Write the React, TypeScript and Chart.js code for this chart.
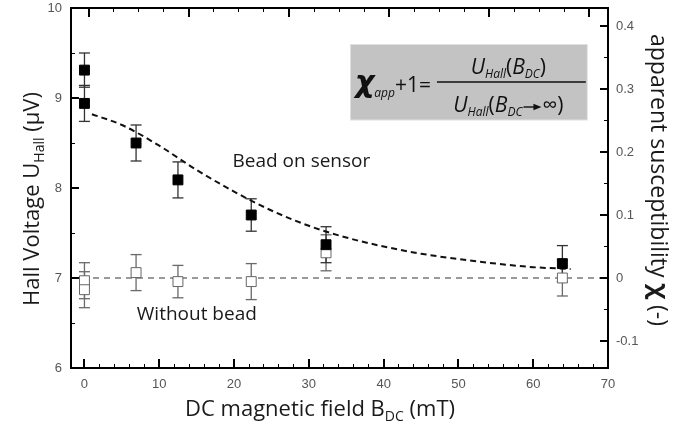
import { useEffect, useRef } from 'react';
import { Chart, registerables } from 'chart.js';
Chart.register(...registerables);

// ---- data ----
const fieldWithBead = [0, 0, 6.9, 12.5, 22.3, 32.3, 63.9];
const hallWithBead = [9.31, 8.94, 8.5, 8.09, 7.7, 7.37, 7.16];
const errWithBead = [0.19, 0.2, 0.2, 0.2, 0.18, 0.2, 0.2];

const fieldWithout = [0, 0, 6.9, 12.5, 22.3, 32.3, 63.9];
const hallWithout = [6.97, 6.87, 7.06, 6.96, 6.96, 7.28, 7.0];
const errWithout = [0.2, 0.2, 0.2, 0.18, 0.2, 0.2, 0.2];

const fitField = [1, 5, 10, 15, 20, 25, 30, 35, 40, 45, 50, 55, 60, 65];
const fitHall = [8.82, 8.7, 8.47, 8.2, 7.96, 7.75, 7.58, 7.45, 7.35, 7.27, 7.21, 7.16, 7.12, 7.1];

const baseField = [-1.8, 70];
const baseHall = [7, 7];

const xTickLabels = [0, 10, 20, 30, 40, 50, 60, 70];
const yTickLabels = [6, 7, 8, 9, 10];
const chiTickLabels = [-0.1, 0, 0.1, 0.2, 0.3, 0.4];
const topMajorTicks = [0.6, 13.97, 27.35, 40.75, 54.15, 67.5];

const X_MIN = -1.8;
const X_MAX = 70;
const Y_MIN = 6;
const Y_MAX = 10;
const U_INF = 7;

const beadLabel = { x: 19.8, y: 8.31, text: 'Bead on sensor' };
const withoutLabel = { x: 7.0, y: 6.61, text: 'Without bead' };
const formulaBox = { x1: 35.5, x2: 67.3, y1: 9.6, y2: 8.75 };

const TITLE_FONT = '"Open Sans", sans-serif';
const TICK_FONT = '"Liberation Sans", Arial, sans-serif';
const AXIS_COLOR = '#000000';

type Part = { t?: string; font?: string; dy?: number; arrow?: number };

function partsWidth(ctx: CanvasRenderingContext2D, parts: Part[]) {
  let w = 0;
  for (const p of parts) {
    if (p.arrow) { w += p.arrow; continue; }
    ctx.font = p.font!;
    w += ctx.measureText(p.t!).width;
  }
  return w;
}

function drawParts(ctx: CanvasRenderingContext2D, parts: Part[], x: number, y: number, align: 'left' | 'center') {
  let cx = align === 'center' ? x - partsWidth(ctx, parts) / 2 : x;
  ctx.textAlign = 'left';
  ctx.textBaseline = 'alphabetic';
  for (const p of parts) {
    if (p.arrow) {
      const ay = y + (p.dy || 0);
      ctx.fillRect(cx + 1, ay - 0.7, p.arrow - 8, 1.4);
      ctx.beginPath();
      ctx.moveTo(cx + p.arrow - 1, ay);
      ctx.lineTo(cx + p.arrow - 9, ay - 3.2);
      ctx.lineTo(cx + p.arrow - 9, ay + 3.2);
      ctx.closePath();
      ctx.fill();
      cx += p.arrow;
      continue;
    }
    ctx.font = p.font!;
    ctx.fillText(p.t!, cx, y + (p.dy || 0));
    cx += ctx.measureText(p.t!).width;
  }
}

const decorPlugin = {
  id: 'decor',
  beforeDatasetsDraw(chart: any) {
    const { ctx, scales } = chart;
    const x = scales.x, y = scales.y;
    const bx1 = x.getPixelForValue(formulaBox.x1), bx2 = x.getPixelForValue(formulaBox.x2);
    const by1 = y.getPixelForValue(formulaBox.y1), by2 = y.getPixelForValue(formulaBox.y2);
    ctx.save();
    ctx.fillStyle = '#e0e0e0';
    ctx.fillRect(bx1, by1, bx2 - bx1, by2 - by1);
    ctx.fillStyle = '#c3c3c3';
    ctx.fillRect(bx1 + 1, by1 + 1, bx2 - bx1 - 2, by2 - by1 - 2);
    ctx.restore();

    const groups = [
      { xs: fieldWithout, ys: hallWithout, es: errWithout, color: '#6a6a6a' },
      { xs: fieldWithBead, ys: hallWithBead, es: errWithBead, color: '#333333' },
    ];
    ctx.save();
    for (const g of groups) {
      ctx.fillStyle = g.color;
      g.xs.forEach((xv, i) => {
        const px = x.getPixelForValue(xv);
        const t = y.getPixelForValue(g.ys[i] + g.es[i]);
        const b = y.getPixelForValue(g.ys[i] - g.es[i]);
        ctx.fillRect(px - 0.65, t, 1.3, b - t);
        ctx.fillRect(px - 5.5, t - 0.65, 11, 1.3);
        ctx.fillRect(px - 5.5, b - 0.65, 11, 1.3);
      });
    }
    ctx.restore();
  },
  afterDraw(chart: any) {
    const { ctx, scales } = chart;
    const x = scales.x, y = scales.y, yc = scales.y1;
    const L = Math.round(x.getPixelForValue(X_MIN)), R = Math.round(x.getPixelForValue(X_MAX));
    const T = Math.round(y.getPixelForValue(Y_MAX)), B = Math.round(y.getPixelForValue(Y_MIN));
    ctx.save();
    ctx.globalCompositeOperation = 'source-over';
    ctx.globalAlpha = 1;
    ctx.fillStyle = AXIS_COLOR;
    // frame
    ctx.fillRect(L - 1, T - 1, R - L + 2, 2);
    ctx.fillRect(L - 1, B - 1, R - L + 2, 2);
    ctx.fillRect(L - 1, T - 1, 2, B - T + 2);
    ctx.fillRect(R - 1, T - 1, 2, B - T + 2);

    const vtick = (px: number, y0: number, len: number, w: number) => ctx.fillRect(Math.round(px - w / 2), Math.min(y0, y0 + len), w, Math.abs(len));
    const htick = (py: number, x0: number, len: number, w: number) => ctx.fillRect(Math.min(x0, x0 + len), Math.round(py - w / 2), Math.abs(len), w);

    for (let v = 0; v <= 70; v += 2) {
      const major = v % 10 === 0;
      vtick(x.getPixelForValue(v), B, major ? -9 : -4, major ? 2 : 1);
    }
    const step = topMajorTicks[1] - topMajorTicks[0];
    for (let i = 0; i < topMajorTicks.length; i++) {
      const base = topMajorTicks[i];
      vtick(x.getPixelForValue(base), T, 9, 2);
      for (let k = 1; k < 4; k++) {
        const v = base + (step * k) / 4;
        if (v < X_MAX - 0.5) vtick(x.getPixelForValue(v), T, 4, 1);
      }
    }
    for (let v = Y_MIN; v <= Y_MAX + 1e-9; v += 0.5) {
      const major = Math.abs(v - Math.round(v)) < 1e-6;
      htick(y.getPixelForValue(v), L, major ? 8 : 4, major ? 2 : 1);
    }
    for (let k = -2; k <= 8; k++) {
      const py = yc.getPixelForValue(k * 0.05);
      if (py < T + 1 || py > B - 1) continue;
      const major = k % 2 === 0;
      htick(py, R, major ? -8 : -4, major ? 2 : 1);
    }

    // axis titles
    ctx.fillStyle = '#1a1a1a';
    const big = `22px ${TITLE_FONT}`;
    const sub = `14px ${TITLE_FONT}`;
    drawParts(ctx, [
      { t: 'DC magnetic field B', font: big },
      { t: 'DC', font: sub, dy: 5 },
      { t: ' (mT)', font: big },
    ], 320, 416, 'center');

    ctx.save();
    ctx.translate(32, 199);
    ctx.rotate(-Math.PI / 2);
    drawParts(ctx, [
      { t: 'Hall Voltage U', font: `22px ${TITLE_FONT}` },
      { t: 'Hall', font: sub, dy: 5 },
      { t: ' (\u03bcV)', font: `22px ${TITLE_FONT}` },
    ], 0, 7, 'center');
    ctx.restore();

    ctx.save();
    ctx.translate(651, 180);
    ctx.rotate(Math.PI / 2);
    drawParts(ctx, [
      { t: 'apparent susceptibility ', font: `23px ${TITLE_FONT}` },
      { t: '\u03c7', font: `bold 25px "Noto Sans", sans-serif` },
      { t: ' (-)', font: `23px ${TITLE_FONT}` },
    ], 0, 0, 'center');
    ctx.restore();

    const lab = `19px ${TITLE_FONT}`;
    drawParts(ctx, [{ t: beadLabel.text, font: lab }], x.getPixelForValue(beadLabel.x), y.getPixelForValue(beadLabel.y) + 7, 'left');
    drawParts(ctx, [{ t: withoutLabel.text, font: lab }], x.getPixelForValue(withoutLabel.x), y.getPixelForValue(withoutLabel.y) + 7, 'left');

    const bx1 = x.getPixelForValue(formulaBox.x1), bx2 = x.getPixelForValue(formulaBox.x2);
    const by1 = y.getPixelForValue(formulaBox.y1);
    const it = `italic 21px ${TITLE_FONT}`;
    const itSub = `italic 12px ${TITLE_FONT}`;
    const reg = `21px ${TITLE_FONT}`;
    ctx.fillStyle = '#111';
    drawParts(ctx, [
      { t: '\u03c7', font: `italic bold 30px "DejaVu Sans", sans-serif` },
      { t: 'app', font: itSub, dy: 5 },
      { t: '+1=', font: reg },
    ], bx1 + 5, by1 + 48, 'left');
    const fx1 = bx1 + 87, fx2 = bx2 - 2;
    const fy = by1 + 38;
    ctx.fillRect(fx1, fy - 0.75, fx2 - fx1, 1.5);
    const fc = (fx1 + fx2) / 2 - 3;
    drawParts(ctx, [
      { t: 'U', font: it },
      { t: 'Hall', font: itSub, dy: 4 },
      { t: '(', font: reg },
      { t: 'B', font: it },
      { t: 'DC', font: itSub, dy: 4 },
      { t: ')', font: reg },
    ], fc, by1 + 30, 'center');
    drawParts(ctx, [
      { t: 'U', font: it },
      { t: 'Hall', font: itSub, dy: 4 },
      { t: '(', font: reg },
      { t: 'B', font: it },
      { t: 'DC', font: itSub, dy: 4 },
      { arrow: 20, dy: -5 },
      { t: '\u221e)', font: reg },
    ], fc, by1 + 68, 'center');
    ctx.restore();
  },
};

export default function App() {
  const ref = useRef<HTMLCanvasElement | null>(null);
  useEffect(() => {
    if (!ref.current) return;
    const toPts = (xs: number[], ys: number[]) => xs.map((v, i) => ({ x: v, y: ys[i] }));
    const noPad = (s: any) => { s.paddingTop = 0; s.paddingBottom = 0; s.paddingLeft = 0; s.paddingRight = 0; };
    const chart = new Chart(ref.current, {
      type: 'scatter',
      data: {
        datasets: [
          {
            label: 'Bead on sensor',
            data: toPts(fieldWithBead, hallWithBead),
            pointStyle: 'rect',
            pointRadius: 7,
            backgroundColor: '#000',
            borderColor: '#000',
            borderWidth: 1,
          },
          {
            label: 'Without bead',
            data: toPts(fieldWithout, hallWithout),
            pointStyle: 'rect',
            pointRadius: 7,
            backgroundColor: '#fff',
            borderColor: '#666',
            borderWidth: 1,
          },
          {
            label: 'fit',
            type: 'line',
            data: toPts(fitField, fitHall),
            borderColor: '#111',
            borderWidth: 2,
            borderDash: [6, 4],
            pointRadius: 0,
            tension: 0.4,
            cubicInterpolationMode: 'monotone',
            fill: false,
          } as any,
          {
            label: 'baseline',
            type: 'line',
            data: toPts(baseField, baseHall),
            borderColor: '#7a7a7a',
            borderWidth: 1.6,
            borderDash: [6, 5],
            pointRadius: 0,
            fill: false,
          } as any,
        ],
      },
      options: {
        responsive: false,
        animation: false,
        layout: { padding: { top: 7, left: 0, right: 0, bottom: 0 } },
        plugins: { legend: { display: false }, tooltip: { enabled: false } },
        scales: {
          x: {
            type: 'linear',
            min: X_MIN,
            max: X_MAX,
            grid: { display: false, drawTicks: false },
            border: { display: false },
            afterBuildTicks: (s: any) => { s.ticks = xTickLabels.map((v) => ({ value: v })); },
            afterFit: (s: any) => { s.height = 55; noPad(s); },
            ticks: { padding: 9, color: '#555', font: { family: TICK_FONT, size: 13 }, maxRotation: 0 },
          },
          y: {
            type: 'linear',
            position: 'left',
            min: Y_MIN,
            max: Y_MAX,
            grid: { display: false, drawTicks: false },
            border: { display: false },
            afterBuildTicks: (s: any) => { s.ticks = yTickLabels.map((v) => ({ value: v })); },
            afterFit: (s: any) => { s.width = 71; noPad(s); },
            ticks: { padding: 9, color: '#555', font: { family: TICK_FONT, size: 13 } },
          },
          y1: {
            type: 'linear',
            position: 'right',
            min: Y_MIN / U_INF - 1,
            max: Y_MAX / U_INF - 1,
            grid: { display: false, drawTicks: false },
            border: { display: false },
            afterBuildTicks: (s: any) => { s.ticks = chiTickLabels.map((v) => ({ value: v })); },
            afterFit: (s: any) => { s.width = 78; noPad(s); },
            ticks: {
              padding: 8,
              color: '#555',
              font: { family: TICK_FONT, size: 13 },
              callback: (v: any) => String(Math.round(Number(v) * 10) / 10),
            },
          },
        },
      },
      plugins: [decorPlugin],
    });
    return () => chart.destroy();
  }, []);
  return (
    <div style={{ position: 'fixed', left: 0, top: 0, width: 686, height: 423, background: '#fff' }}>
      <canvas ref={ref} width={686} height={423} style={{ display: 'block' }} />
    </div>
  );
}
